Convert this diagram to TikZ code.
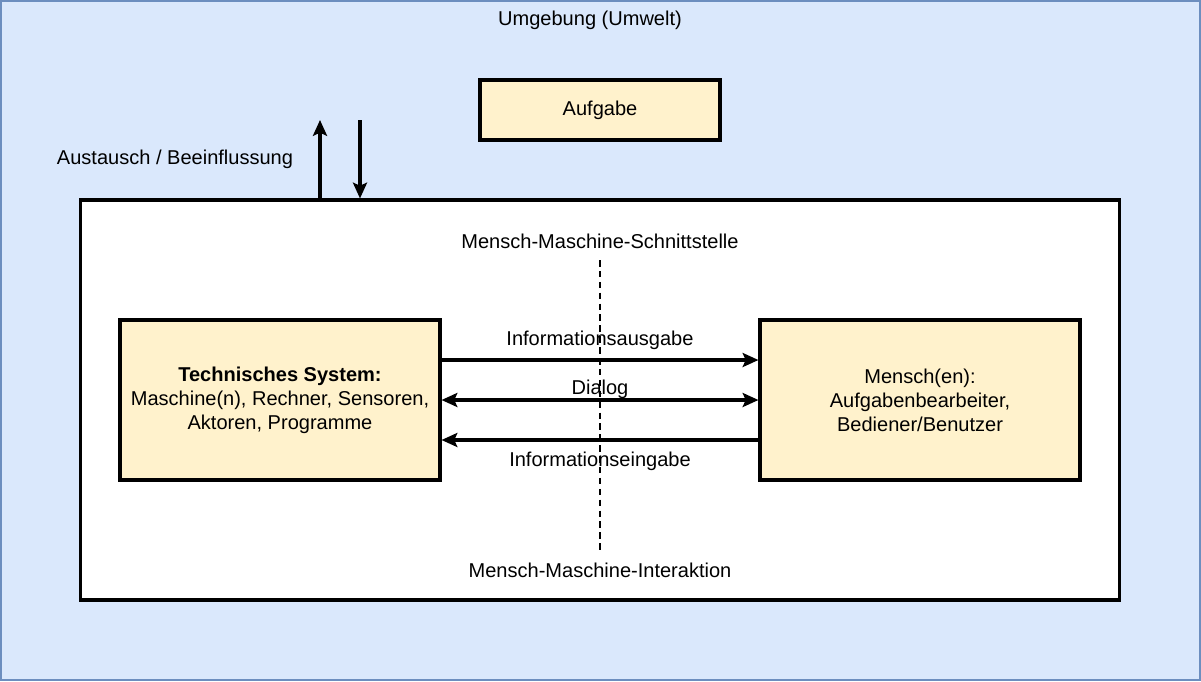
\documentclass[tikz,border=0pt]{standalone}
\usepackage{fontspec}
\setmainfont{Liberation Sans}
\usepackage{xcolor}
\usepackage{tikz}
\usetikzlibrary{arrows.meta, positioning}

\definecolor{envfill}{HTML}{DAE8FC}
\definecolor{envline}{HTML}{6C8EBF}
\definecolor{boxfill}{HTML}{FFF2CC}

\begin{document}
\begin{tikzpicture}[
    x=0.02cm, y=-0.02cm,
    font=\fontsize{11.4}{13.6}\selectfont,
    box/.style={rectangle, draw, line width=1.8pt, fill=boxfill, align=center, inner sep=0pt},
    arrow/.style={-{Stealth[length=9pt, width=8pt, inset=1.8pt]}, line width=1.9pt},
    biarrow/.style={{Stealth[length=9pt, width=8pt, inset=1.8pt]}-{Stealth[length=9pt, width=8pt, inset=1.8pt]}, line width=1.9pt},
    label/.style={align=center, inner sep=1pt}
]

% Umgebung
\useasboundingbox (0,0) rectangle (1201,681);
\draw[fill=envfill, draw=envline, line width=1.2pt] (0.6,0.6) rectangle (1200.4,680.4);
\node[label] (umwelt) at (590,20) {Umgebung (Umwelt)};

\node[box, minimum width=4.8cm, minimum height=1.2cm] (aufgabe) at (600,110) {Aufgabe};

% Mensch-Maschine-System
\node[rectangle, draw, fill=white, line width=1.8pt, minimum width=20.8cm, minimum height=8cm, inner sep=0pt] (system) at (600,400) {};

\coordinate (aus) at (320,120);
\coordinate (ein) at (360,120);
\draw[arrow] (system.north -| aus) -- (aus);
\draw[arrow] (ein) -- (system.north -| ein);
\node[label] (austausch) at (175,159) {Austausch / Beeinflussung};

\node[box, minimum width=6.4cm, minimum height=3.2cm] (technik) at (280,400)
    {\textbf{Technisches System:}\\Maschine(n), Rechner, Sensoren,\\Aktoren, Programme};
\node[box, minimum width=6.4cm, minimum height=3.2cm] (mensch) at (920,400)
    {Mensch(en):\\Aufgabenbearbeiter,\\Bediener/Benutzer};

\node[label] (schnitt) at (600,241) {Mensch-Maschine-Schnittstelle};
\node[label] (interaktion) at (600,570) {Mensch-Maschine-Interaktion};

\node[label] (ausgabe) at (600,340) {Informationsausgabe};
\node[label] (dialog) at (600,389) {Dialog};
\node[label] (eingabe) at (600,461) {Informationseingabe};

\draw[arrow] ([yshift=0.8cm]technik.east) -- ([yshift=0.8cm]mensch.west);
\draw[biarrow] (technik.east) -- (mensch.west);
\draw[arrow] ([yshift=-0.8cm]mensch.west) -- ([yshift=-0.8cm]technik.east);

\coordinate (grenzeoben) at (600,260);
\coordinate (grenzeunten) at (600,550);
\draw[dash pattern=on 3.7pt off 2.5pt, line width=1pt] (grenzeoben) -- (grenzeunten);

\end{tikzpicture}
\end{document}
